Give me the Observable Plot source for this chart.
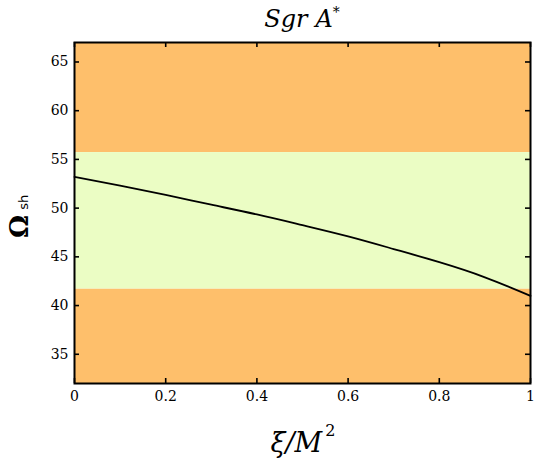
<!DOCTYPE html>
<html><head><meta charset="utf-8">
<script src="https://cdn.jsdelivr.net/npm/d3@7"></script>
<script src="https://cdn.jsdelivr.net/npm/@observablehq/plot@0.6"></script>
<style>body{margin:0;background:#fff}</style>
</head><body><div id="chart"></div>
<script>
// data
const xi = [0, 0.1, 0.2, 0.3, 0.4, 0.5, 0.6, 0.7, 0.8, 0.9, 1.0];
const omegaSh = [53.2, 52.3, 51.35, 50.35, 49.35, 48.25, 47.1, 45.8, 44.45, 42.9, 41.0];
const xDomain = [0, 1];
const yDomain = [32, 67];
const observedRange = [41.7, 55.7];
const xTicks = [0, 0.2, 0.4, 0.6, 0.8, 1];
const xTickLabels = ["0", "0.2", "0.4", "0.6", "0.8", "1"];
const yTicks = [35, 40, 45, 50, 55, 60, 65];

const curve = xi.map((x, i) => ({x, y: omegaSh[i]}));
const outside = [
  {y1: yDomain[0], y2: observedRange[0]},
  {y1: observedRange[1], y2: yDomain[1]}
];
const inside = [{y1: observedRange[0], y2: observedRange[1]}];

const W = 550, H = 460;
const mL = 74, mR = 20, mT = 42, mB = 77;
const pw = W - mL - mR, ph = H - mT - mB;
const tk = 5;
const serif = "DejaVu Serif";

const plot = Plot.plot({
  width: W, height: H,
  marginLeft: mL, marginRight: mR, marginTop: mT, marginBottom: mB,
  style: {fontFamily: serif, fontSize: "14px", color: "black", background: "white"},
  x: {domain: xDomain},
  y: {domain: yDomain},
  marks: [
    Plot.rect(outside, {x1: xDomain[0], x2: xDomain[1], y1: "y1", y2: "y2", fill: "#FEBF6B"}),
    Plot.rect(inside, {x1: xDomain[0], x2: xDomain[1], y1: "y1", y2: "y2", fill: "#EBFDC4"}),
    Plot.line(curve, {x: "x", y: "y", stroke: "black", strokeWidth: 1.8, curve: "natural"}),
    Plot.axisX({ticks: xTicks, tickSize: 0, tickPadding: 8, tickFormat: (d, i) => xTickLabels[i], label: null, fontSize: 14, fontFamily: serif}),
    Plot.axisY({ticks: yTicks, tickSize: 0, tickPadding: 6, label: null, fontSize: 14, fontFamily: serif}),
    Plot.tickX(xTicks, {x: d => d, insetTop: ph - tk, stroke: "black", strokeWidth: 1.6}),
    Plot.tickX(xTicks, {x: d => d, insetBottom: ph - tk, stroke: "black", strokeWidth: 1.6}),
    Plot.tickY(yTicks, {y: d => d, insetRight: pw - tk, stroke: "black", strokeWidth: 1.6}),
    Plot.tickY(yTicks, {y: d => d, insetLeft: pw - tk, stroke: "black", strokeWidth: 1.6}),
    Plot.frame({stroke: "black", strokeWidth: 2})
  ]
});
document.getElementById("chart").appendChild(plot);

const svg = d3.select(plot);
const cx = mL + pw / 2;

// title
const t = svg.append("text")
  .attr("x", cx).attr("y", 27)
  .attr("text-anchor", "middle")
  .style("font-family", serif).attr("font-style", "italic").attr("font-size", 24)
  .attr("fill", "black");
t.append("tspan").text("Sgr");
t.append("tspan").attr("dx", 8).text("A");
t.append("tspan").attr("font-size", 14).attr("dy", -10).attr("font-style", "normal").text("*");

// x label
const xl = svg.append("text")
  .attr("x", cx + 1).attr("y", 452)
  .attr("text-anchor", "middle")
  .style("font-family", serif).attr("font-size", 27).attr("fill", "black");
xl.append("tspan").attr("font-style", "italic").text("ξ/M");
xl.append("tspan").attr("font-size", 16).attr("dy", -16).attr("dx", 3).text("2");

// y label
const yl = svg.append("text")
  .attr("transform", "translate(28,238) rotate(-90)")
  .attr("text-anchor", "start")
  .style("font-family", serif).attr("font-size", 26).attr("font-weight", "bold").attr("fill", "black");
yl.append("tspan").text("Ω");
yl.append("tspan").style("font-family", "DejaVu Sans").attr("font-weight", "normal")
  .attr("font-size", 13).attr("dx", 5).attr("dy", 0).text("sh");
</script>
</body></html>
